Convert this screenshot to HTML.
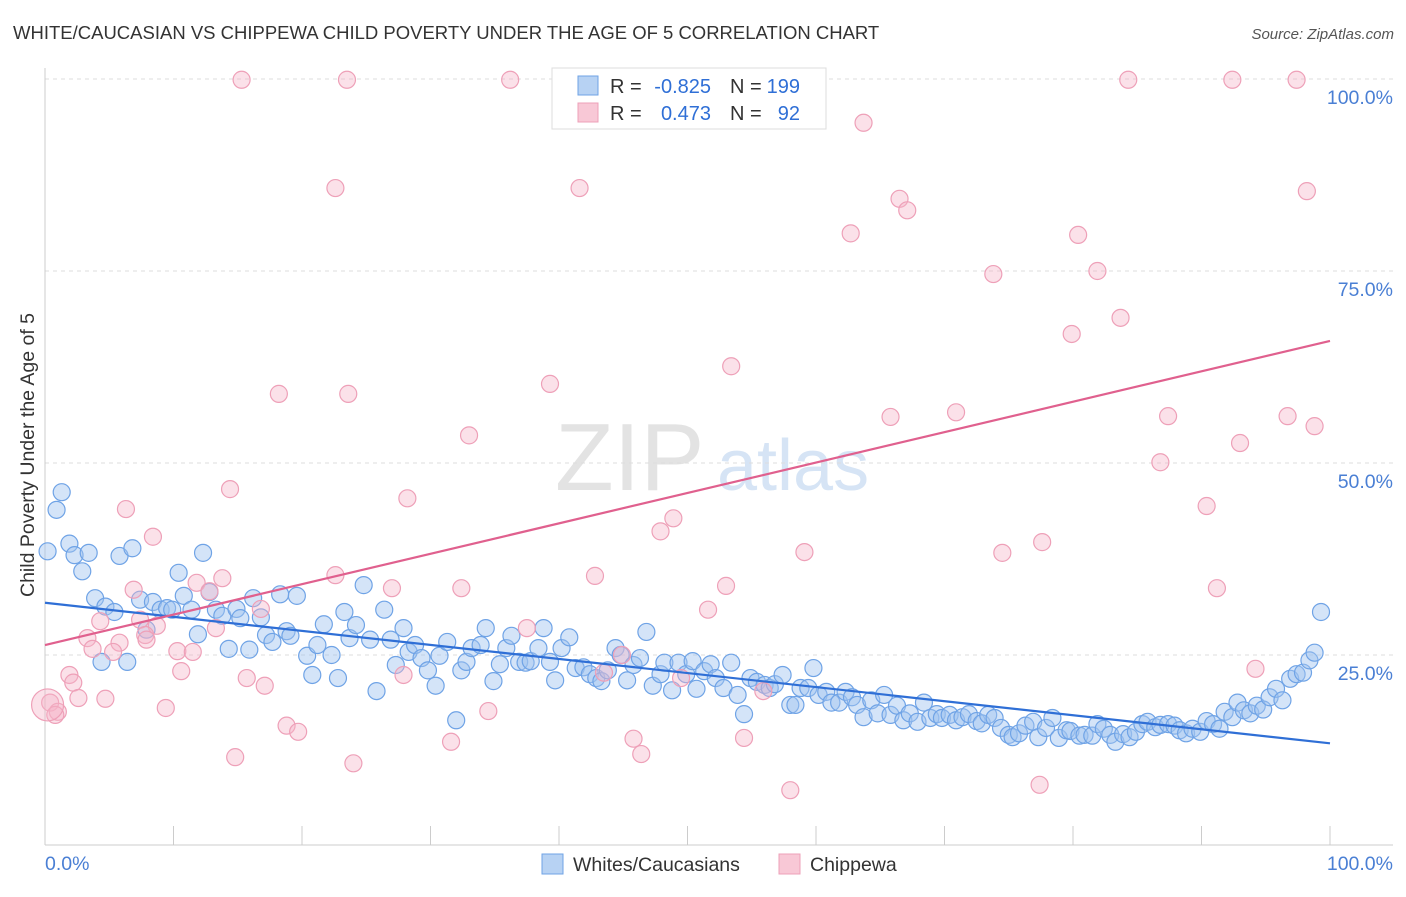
<!DOCTYPE html>
<html><head><meta charset="utf-8"><style>
body{margin:0;background:#fff;font-family:"Liberation Sans",sans-serif}
svg text{font-family:"Liberation Sans",sans-serif}
</style></head><body>
<svg id="chart" width="1406" height="892" xmlns="http://www.w3.org/2000/svg">
<text x="13" y="39" font-size="18.5" fill="#333">WHITE/CAUCASIAN VS CHIPPEWA CHILD POVERTY UNDER THE AGE OF 5 CORRELATION CHART</text>
<text x="1394" y="39" font-size="15" fill="#555" text-anchor="end" font-style="italic">Source: ZipAtlas.com</text>
<g>
<text x="555" y="490" font-size="96" fill="#e3e3e3" font-family="Liberation Serif,serif">ZIP</text>
<text x="717" y="490" font-size="72" fill="#d6e4f5">atlas</text>
</g>
<g id="grid"></g>
<g id="axes"></g>
<g id="pts"></g>
<g id="trends"></g>
<text transform="translate(34,455) rotate(-90)" font-size="19.5" fill="#333" text-anchor="middle">Child Poverty Under the Age of 5</text>
<text x="45" y="870" font-size="19.5" fill="#4a7fd4">0.0%</text>
<text x="1393" y="870" font-size="19.5" fill="#4a7fd4" text-anchor="end">100.0%</text>
<g>
<rect x="552" y="68" width="274" height="61" fill="#fff" stroke="#ddd"/>
<rect x="578" y="76" width="20" height="19" fill="#b7d2f3" stroke="#6fa3e6"/>
<rect x="578" y="103" width="20" height="19" fill="#f8c8d6" stroke="#eea0b8"/>
<text x="610" y="93" font-size="20" fill="#333">R =</text>
<text x="711" y="93" font-size="20" fill="#2f6fd6" text-anchor="end">-0.825</text>
<text x="730" y="93" font-size="20" fill="#333">N =</text>
<text x="800" y="93" font-size="20" fill="#2f6fd6" text-anchor="end">199</text>
<text x="610" y="120" font-size="20" fill="#333">R =</text>
<text x="711" y="120" font-size="20" fill="#2f6fd6" text-anchor="end">0.473</text>
<text x="730" y="120" font-size="20" fill="#333">N =</text>
<text x="800" y="120" font-size="20" fill="#2f6fd6" text-anchor="end">92</text>
</g>
<g>
<rect x="542" y="854" width="21" height="20" fill="#b7d2f3" stroke="#6fa3e6"/>
<text x="573" y="871" font-size="19.5" fill="#333">Whites/Caucasians</text>
<rect x="779" y="854" width="21" height="20" fill="#f8c8d6" stroke="#eea0b8"/>
<text x="810" y="871" font-size="19.5" fill="#333">Chippewa</text>
</g>
</svg>
<script>
const yTicks=[25,50,75,100];
const yTickLabels=["25.0%","50.0%","75.0%","100.0%"];
const blueTrend=[31.8,13.5];
const pinkTrend=[26.3,65.9];
const blueX=[0.2,0.9,1.3,1.9,2.3,2.9,3.4,3.9,4.7,5.4,4.4,5.8,6.4,6.8,7.4,7.9,8.4,9,9.5,9.9,10.4,10.8,11.4,11.9,12.3,12.8,13.3,13.8,14.3,14.9,15.2,15.9,16.2,16.8,17.2,17.7,18.3,18.8,19.1,19.6,20.4,20.8,21.2,21.7,22.3,22.8,23.3,23.7,24.2,24.8,25.3,25.8,26.4,26.9,27.3,27.9,28.3,28.8,29.3,29.8,30.4,30.7,31.3,32,32.4,32.8,33.2,33.9,34.3,34.9,35.4,35.9,36.3,36.9,37.4,37.8,38.4,38.8,39.3,39.7,40.2,40.8,41.3,41.9,42.4,42.9,43.3,43.8,44.4,44.8,45.3,45.8,46.3,46.8,47.3,47.9,48.2,48.8,49.3,49.9,50.4,50.7,51.3,51.8,52.2,52.8,53.4,53.9,54.4,54.9,55.4,56,56.4,56.8,57.4,58,58.4,58.8,59.4,59.8,60.2,60.8,61.2,61.8,62.3,62.8,63.2,63.7,64.3,64.8,65.3,65.8,66.3,66.8,67.3,67.9,68.4,68.9,69.4,69.8,70.4,70.9,71.4,71.9,72.5,72.9,73.4,73.9,74.4,75,75.3,75.8,76.3,76.9,77.3,77.9,78.4,78.9,79.5,79.8,80.5,80.9,81.5,81.9,82.4,82.9,83.3,83.9,84.4,84.9,85.4,85.8,86.4,86.8,87.4,87.9,88.3,88.8,89.3,89.9,90.4,90.9,91.4,91.8,92.4,92.8,93.3,93.8,94.3,94.8,95.3,95.8,96.3,96.9,97.4,97.9,98.4,98.8,99.3];
const blueY=[38.5,43.9,46.2,39.5,38,35.9,38.3,32.4,31.3,30.6,24.1,37.9,24.1,38.9,32.2,28.3,31.9,30.9,31.1,30.9,35.7,32.7,30.9,27.7,38.3,33.2,30.9,30.1,25.8,31,29.8,25.7,32.4,29.9,27.6,26.7,32.9,28.1,27.5,32.7,24.9,22.4,26.3,29,25,22,30.6,27.2,28.9,34.1,27,20.3,30.9,27,23.7,28.5,25.4,26.3,24.6,23,21,24.9,26.7,16.5,23,24.1,25.9,26.3,28.5,21.6,23.8,25.9,27.5,24.1,24,24.2,25.9,28.5,24.1,21.7,25.9,27.3,23.3,23.4,22.5,22,21.6,23,25.9,25,21.7,23.7,24.6,28,21,22.5,24,20.4,24,22.5,24.2,20.6,22.9,23.8,22,20.7,24,19.8,17.3,22,21.5,21.1,20.7,21.2,22.4,18.5,18.5,20.7,20.7,23.3,19.8,20.2,18.8,18.8,20.2,19.5,18.5,16.9,19.1,17.4,19.8,17.2,18.4,16.5,17.4,16.3,18.8,16.8,17.3,16.8,17.2,16.5,16.9,17.3,16.4,16.1,17.2,16.8,15.5,14.6,14.3,14.8,15.8,16.3,14.3,15.5,16.8,14.2,15.2,15.1,14.5,14.6,14.5,16,15.4,14.6,13.7,14.7,14.3,15,16,16.3,15.6,15.9,16,15.8,15.2,14.8,15.4,15,16.4,16,15.4,17.6,16.9,18.8,17.8,17.4,18.4,17.9,19.5,20.6,19.1,21.9,22.5,22.7,24.3,25.3,30.6];
const pinkX=[15.3,23.5,36.2,84.3,92.4,97.4,63.7,22.6,41.6,98.2,66.5,67.1,62.7,80.4,73.8,81.9,83.7,79.9,53.4,39.3,18.2,23.6,65.8,70.9,87.4,96.7,98.8,93,33,86.8,14.4,28.2,90.4,6.3,48.9,47.9,8.4,77.6,59.1,74.5,42.8,13.8,22.6,11.8,6.9,27,32.4,53,91.2,12.8,16.8,51.6,7.4,4.3,8.7,13.3,37.5,7.8,3.3,7.9,5.8,3.7,5.3,10.3,11.5,44.9,94.2,10.6,1.9,43.5,27.9,2.2,15.7,17.1,49.5,55.9,4.7,2.6,0.4,1,0.8,9.4,34.5,18.8,19.7,31.6,45.8,54.4,14.8,46.4,24,58,77.4];
const pinkY=[99.9,99.9,99.9,99.9,99.9,99.9,94.3,85.8,85.8,85.4,84.4,82.9,79.9,79.7,74.6,75,68.9,66.8,62.6,60.3,59,59,56,56.6,56.1,56.1,54.8,52.6,53.6,50.1,46.6,45.4,44.4,44,42.8,41.1,40.4,39.7,38.4,38.3,35.3,35,35.4,34.4,33.5,33.7,33.7,34,33.7,33.3,31,30.9,29.6,29.4,28.8,28.5,28.5,27.6,27.2,27,26.6,25.8,25.4,25.5,25.4,25,23.2,22.9,22.4,22.7,22.4,21.4,22,21,22,20.3,19.3,19.4,18.8,17.6,17.2,18.1,17.7,15.8,15,13.7,14.1,14.2,11.7,12.1,10.9,7.4,8.1];

const NS='http://www.w3.org/2000/svg';
const X0=45,X1=1330,Y0=847,Y100=79;
function xs(v){return X0+(X1-X0)*v/100;}
function ys(v){return Y0+(Y100-Y0)*v/100;}
function mk(t,a,p){const e=document.createElementNS(NS,t);for(const k in a)e.setAttribute(k,a[k]);p.appendChild(e);return e;}
const grid=document.getElementById('grid'),axes=document.getElementById('axes'),pts=document.getElementById('pts'),tr=document.getElementById('trends');
yTicks.forEach((t,i)=>{
 const l=mk('line',{x1:X0,x2:1393,y1:ys(t),y2:ys(t),stroke:'#ddd','stroke-dasharray':'4,4'},grid);
 
 
 const tx=mk('text',{x:1393,y:ys(t)+25,'font-size':19.5,fill:'#4a7fd4','text-anchor':'end'},grid);
 tx.textContent=yTickLabels[i];
 
 
});
const ax=mk('line',{x1:X0,x2:1393,y1:845,y2:845,stroke:'#ccc'},axes);


const ay=mk('line',{x1:X0,x2:X0,y1:68,y2:845,stroke:'#ccc'},axes);


for(let i=0;i<=10;i++){
 const t=mk('line',{x1:xs(i*10),x2:xs(i*10),y1:826,y2:845,stroke:'#ccc'},axes);
 
 
}
blueX.forEach((x,i)=>{
 const c=mk('circle',{cx:xs(x),cy:ys(blueY[i]),r:8.5,fill:'rgba(160,196,240,0.45)',stroke:'#6fa3e6','stroke-width':1.2},pts);
 
 
});
pinkX.forEach((x,i)=>{
 const c=mk('circle',{cx:xs(x),cy:ys(pinkY[i]),r:8.5,fill:'rgba(245,180,200,0.4)',stroke:'#eea0b8','stroke-width':1.2},pts);
 
 
});
const big=mk('circle',{cx:xs(0.2),cy:ys(18.5),r:16,fill:'rgba(245,180,200,0.4)',stroke:'#eea0b8','stroke-width':1.2},pts);


const bl=mk('line',{x1:xs(0),x2:xs(100),y1:ys(blueTrend[0]),y2:ys(blueTrend[1]),stroke:'#2f6fd6','stroke-width':2.2},tr);


const pl=mk('line',{x1:xs(0),x2:xs(100),y1:ys(pinkTrend[0]),y2:ys(pinkTrend[1]),stroke:'#e0608e','stroke-width':2.2},tr);


</script>
</body></html>
